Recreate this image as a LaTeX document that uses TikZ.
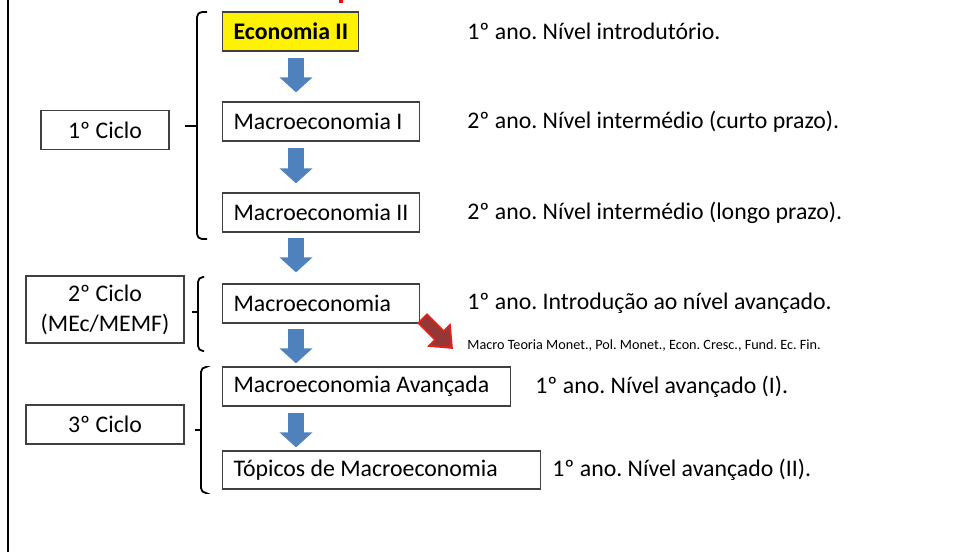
\documentclass[tikz,border=0pt]{standalone}
\usepackage{fontspec}
\setmainfont{Carlito}
\frenchspacing
\usetikzlibrary{arrows.meta}
\definecolor{arrowblue}{HTML}{4F81BD}
\definecolor{arrowred}{HTML}{E2231A}
\definecolor{darkred}{HTML}{953735}
\definecolor{boxline}{HTML}{404040}

\begin{document}
\begin{tikzpicture}[x=0.5pt,y=-0.5pt,
  font=\fontsize{11.9}{15}\selectfont,
  ciclo/.style={draw=boxline,line width=0.6pt,align=center,minimum width=79pt,minimum height=19.5pt,inner sep=0pt},
  disc/.style={draw=boxline,line width=0.6pt,anchor=west,inner xsep=5.5pt,inner ysep=0pt,minimum height=19.5pt},
  nota/.style={anchor=west,inner sep=0pt},
  seta/.style={line width=8pt,arrowblue,-{Triangle[width=16pt,length=7.5pt]},shorten <=3pt,shorten >=4.5pt},
  chaveta/.style={line width=0.9pt,rounded corners=2.5pt}]
\useasboundingbox (0,0) rectangle (955,552);
% margem e resto do titulo
\draw[line width=1.4pt] (8,0) -- (8,552);
\fill[red] (339,0) rectangle (343,3);
% ciclos
\node[ciclo,minimum width=64pt] (c1) at (105,130) {1º Ciclo};
\node[ciclo,minimum height=33.5pt] (c2) at (105,309.5) {2º Ciclo\\(MEc/MEMF)};
\node[ciclo] (c3) at (105,424.5) {3º Ciclo};
% chavetas
\draw[chaveta] (207,12) -- (197,12) -- (197,239) -- (207,239);
\draw[chaveta] (197,126) -- (185,126);
\draw[chaveta] (204,277) -- (198,277) -- (198,351) -- (204,351);
\draw[chaveta] (198,312) -- (192,312);
\draw[chaveta] (205,367) -- (201,367) -- (201,493) -- (205,493);
\draw[chaveta] (201,430) -- (195,430);
% disciplinas
\node[disc,fill=yellow] (eco) at (222,31.5) {\makebox[57pt][l]{\bfseries Economia II}};
\node[disc] (mac1) at (222,121.5) {\makebox[87.5pt][l]{Macroeconomia I}};
\node[disc] (mac2) at (222,212.5) {\makebox[87.5pt][l]{Macroeconomia II}};
\node[disc] (mac) at (222,303.5) {\makebox[87.5pt][l]{Macroeconomia}};
\node[disc] (avan) at (222,386.5) {\makebox[133pt][l]{Macroeconomia Avançada}};
\node[disc,minimum height=19pt] (topi) at (222,470) {\makebox[148pt][l]{Tópicos de Macroeconomia}};
% notas
\node[nota] (n1) at (467,31.5) {1º ano. Nível introdutório.};
\node[nota] (n2) at (467,121.5) {2º ano. Nível intermédio (curto prazo).};
\node[nota] (n3) at (467,212.5) {2º ano. Nível intermédio (longo prazo).};
\node[nota] (n4) at (467,303.5) {1º ano. Introdução ao nível avançado.};
\node[nota,font=\fontsize{7.1}{8}\selectfont] (n5) at (467,345) {Macro Teoria Monet., Pol. Monet., Econ. Cresc., Fund. Ec. Fin.};
\node[nota] (n6) at (535,386.5) {1º ano. Nível avançado (I).};
\node[nota] (n7) at (552,470) {1º ano. Nível avançado (II).};
% setas
\coordinate (ax) at (296,0);
\draw[seta] (eco.south -| ax) -- (mac1.north -| ax);
\draw[seta] (mac1.south -| ax) -- (mac2.north -| ax);
\draw[seta,shorten <=2.5pt,shorten >=5.5pt] (mac2.south -| ax) -- (mac.north -| ax);
\draw[seta,shorten <=2.5pt,shorten >=1.5pt] (mac.south -| ax) -- (avan.north -| ax);
\draw[seta,shorten >=1.5pt] (avan.south -| ax) -- (topi.north -| ax);
\coordinate (r1) at (422,318);
\coordinate (r2) at (453,349);
\draw[line width=7pt,arrowred,-{Triangle[width=16pt,length=10pt]}] (r1) -- (r2);
\draw[line width=5pt,darkred,-{Triangle[width=12pt,length=7.5pt]},shorten <=1pt,shorten >=1.6pt] (r1) -- (r2);
\end{tikzpicture}
\end{document}
